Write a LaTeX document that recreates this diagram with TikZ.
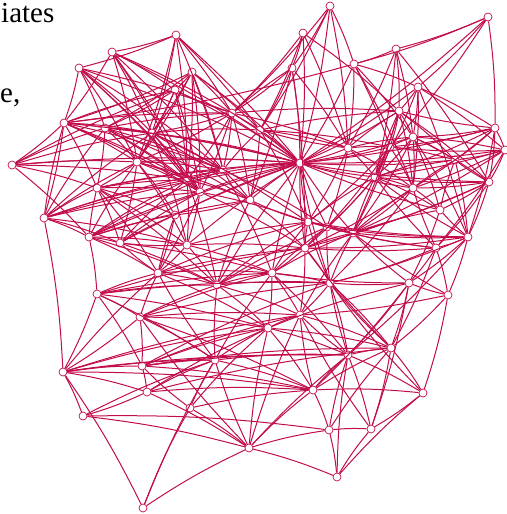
\documentclass[tikz,border=0pt]{standalone}
\usepackage{fontspec}
\setmainfont{Liberation Serif}
\definecolor{cedge}{HTML}{C20C4C}
\newcommand{\vertsize}{8pt}

\begin{document}
\begin{tikzpicture}[x=1pt, y=-1pt,
    vert/.style={circle, draw=cedge, line width=0.7pt, minimum size=\vertsize, inner sep=0pt},
    edge/.style={cedge, line width=1pt},
    txt/.style={font=\fontsize{29}{33}\selectfont, anchor=base west, inner sep=0pt},
]

% Page size (pixels of the reference)
\useasboundingbox (0,0) rectangle (506,514);

% Text cut off at the left margin
\node[txt] (t1) at (1,22) {iates};
\node[txt] (t2) at (0,102) {e,};

% --- Vertices on the rim (visible circles) ---
\foreach \n/\x/\y in {a1/330/6, a2/488/17, a3/176/35, a4/303/33, a5/112/52,
    a6/79/68, a7/396/49, a8/192/72, a9/292/68, a10/354/64, a11/418/87,
    a12/64/123, a13/12/165, a14/232/113, a15/175/90, a16/399/111,
    a17/495/128, a18/413/137, a19/505/150, a20/300/163, a21/44/218,
    a22/89/237, a23/97/294, a24/140/317, a25/489/182, a26/468/237,
    a27/436/248, a28/448/295, a29/409/283, a30/63/372, a31/142/366,
    a32/147/392, a33/83/416, a34/143/508, a35/190/408, a36/249/448,
    a37/215/360, a38/313/390, a39/329/430, a40/337/477, a41/348/355,
    a42/391/348, a43/423/393, a44/371/429} {
    \node[vert] (\n) at (\x,\y) {};
}

% --- Vertices inside the tangle ---
\foreach \n/\x/\y in {b1/105/128, b2/152/133, b3/137/162, b4/97/188,
    b5/187/180, b6/200/192, b7/223/170, b8/187/245, b9/158/273,
    b10/217/285, b11/305/248, b12/272/273, b13/330/283, b14/268/328,
    b15/300/315, b17/308/222, b18/353/233, b19/348/148, b20/375/177,
    b21/390/147, b22/413/188, b23/327/227, b24/120/243, b25/440/210,
    b26/260/130, b29/455/160, b30/250/200, b31/175/215} {
    \node[vert] (\n) at (\x,\y) {};
}

% --- Edges: source / list of targets ---
\foreach \s/\ts in {
    a1/{a20,a9,b19,a10,b26,a14},
    a2/{a7,a11,a20,a17,b21,a10},
    a3/{a5,b2,b5,a20,a14,b26,a6,b3,b7},
    a4/{a20,a14,b19,a16,b26,a9},
    a5/{b2,a15,b3,a20,b6,a12,b5,b7,b26},
    a6/{b1,b2,a20,b5,a14,a12,b3,b6,b7},
    a7/{a10,a18,a16,a25,b20,b19},
    a8/{a12,b2,a14,b5,a20,b7,a15,b3,b6,b26,b1},
    a9/{a20,b30,b19,a14,b11,b26},
    a10/{a11,a18,b19,a20,b22,a12,b21},
    a11/{a17,a18,a16,a20,b20,a26,b22,a19},
    a12/{a13,b2,b4,b3,b5,a21,a20,b1,b6,b7,a14,a15},
    a13/{b3,b4,b2,a22,a20,a15,b5,b1},
    a14/{a20,b5,b6,b3,a15,b30,a16,b2,b19,b7,a9},
    a15/{a20,b2,b3,b5,b6,b1},
    a16/{a20,a18,b20,a25,b21,b22,b29,b18},
    a17/{a16,a18,b20,a19,a26,a20,b29,b22,b21,a25},
    a18/{a20,b22,a25,a19,b20,b29,b25,b18,a26},
    a19/{a20,b29,a25,b18,a27,b22,b20,b21},
    a21/{b4,b3,b5,a20,a22,a30,a12,b24,b6,b7,b1,b2,b8},
    a22/{b8,a20,b5,b9,a23,b24,b10,b4,b6,b7,b3,b31,b30},
    a23/{b9,a24,b12,a30,b10,a31,b13,b14,b11,a37},
    a24/{b9,a31,a37,b14,a30,b10,b15,b12,b13,a38},
    a25/{b18,b25,a26,b20,a20,b22,b29,a27,b11},
    a26/{b25,a27,a29,b13,a28,b18,b20,b11,b17,b23,a41},
    a27/{b11,a28,a29,b22,b20,b17,b13,b23,a42},
    a28/{a29,a43,a42,b18,b15},
    a29/{a42,a41,b13,b18,a44,a38,b12},
    a30/{a31,a32,b14,a33,a34,b9,a41,a37,a38,b15},
    a31/{a37,a41,a32,b14,b15,a38,b13,a42},
    a32/{a33,a37,b14,a38,a42,a36},
    a33/{a39,a36,a37},
    a34/{a36,a37,a35},
    a35/{a36,a37,a31,b14,a38},
    a36/{a37,b14,b15,a38,a39,a40,a41,a24},
    a37/{b14,b10,a38,a41,b12,b9},
    a38/{a41,a42,a39,a43,b15},
    a39/{a44,a40,a42,a41},
    a40/{a44,a43,a41},
    a41/{a42,b15,b13,a43,a44},
    a42/{a43,a44,b13,b11},
    a43/{a44,b13},
    a44/{b15},
    b1/{b2,b3,a20,b7,b4,a14,b5,b6,b30},
    b2/{b5,b6,a20,b3,b30,b8,b7,b26,b17},
    b3/{b4,b5,b24,a20,b6,b31,b7,b8,b30},
    b4/{b5,a20,b24,b31,b7,b8,b6,b9,b10},
    b5/{a20,b7,b6,b8,b30,b10},
    b6/{a20,b11,b17,b8,b9},
    b7/{a20,b26,b30,b12,b23},
    b8/{b9,b10,b11,b12,a20,b24,b17},
    b9/{b10,b24,b14,b12,b31,b11,b17},
    b10/{b12,b14,b11,a20,b13,b17,b23,b30,b15},
    b11/{b17,b23,b18,b12,b13,a20,b15},
    b12/{b13,b14,b15,a20,b17,b23,b18,a41},
    b13/{b15,b18,a20,b23,a41,a42,b17},
    b14/{b15,a38,a41,a42,a29},
    b15/{a42,b18},
    b17/{a20,b18,b23,b30,b20},
    b18/{a20,b20,b22,b25,b23},
    b19/{a20,b20,b21,a16,a18,b26,b17,b23,b22},
    b20/{a20,b21,b22,b29,b23,b11,b25,a16},
    b21/{a20,a18,b29,b22,b17,b18,b23},
    b22/{a20,b25,b29,b18,b11,b13},
    b23/{a20},
    b24/{a20,b31,b10,b5,b6,b12},
    b25/{a20,b29,a29},
    b26/{a20,b30,a16,b19,b17,b21},
    b29/{a20,a26},
    b30/{a20,b31,b11},
    b31/{a20,b9}} {
    \foreach \t in \ts {
        \draw[edge] (\s) to[bend left=4] (\t);
    }
}

\end{tikzpicture}
\end{document}
